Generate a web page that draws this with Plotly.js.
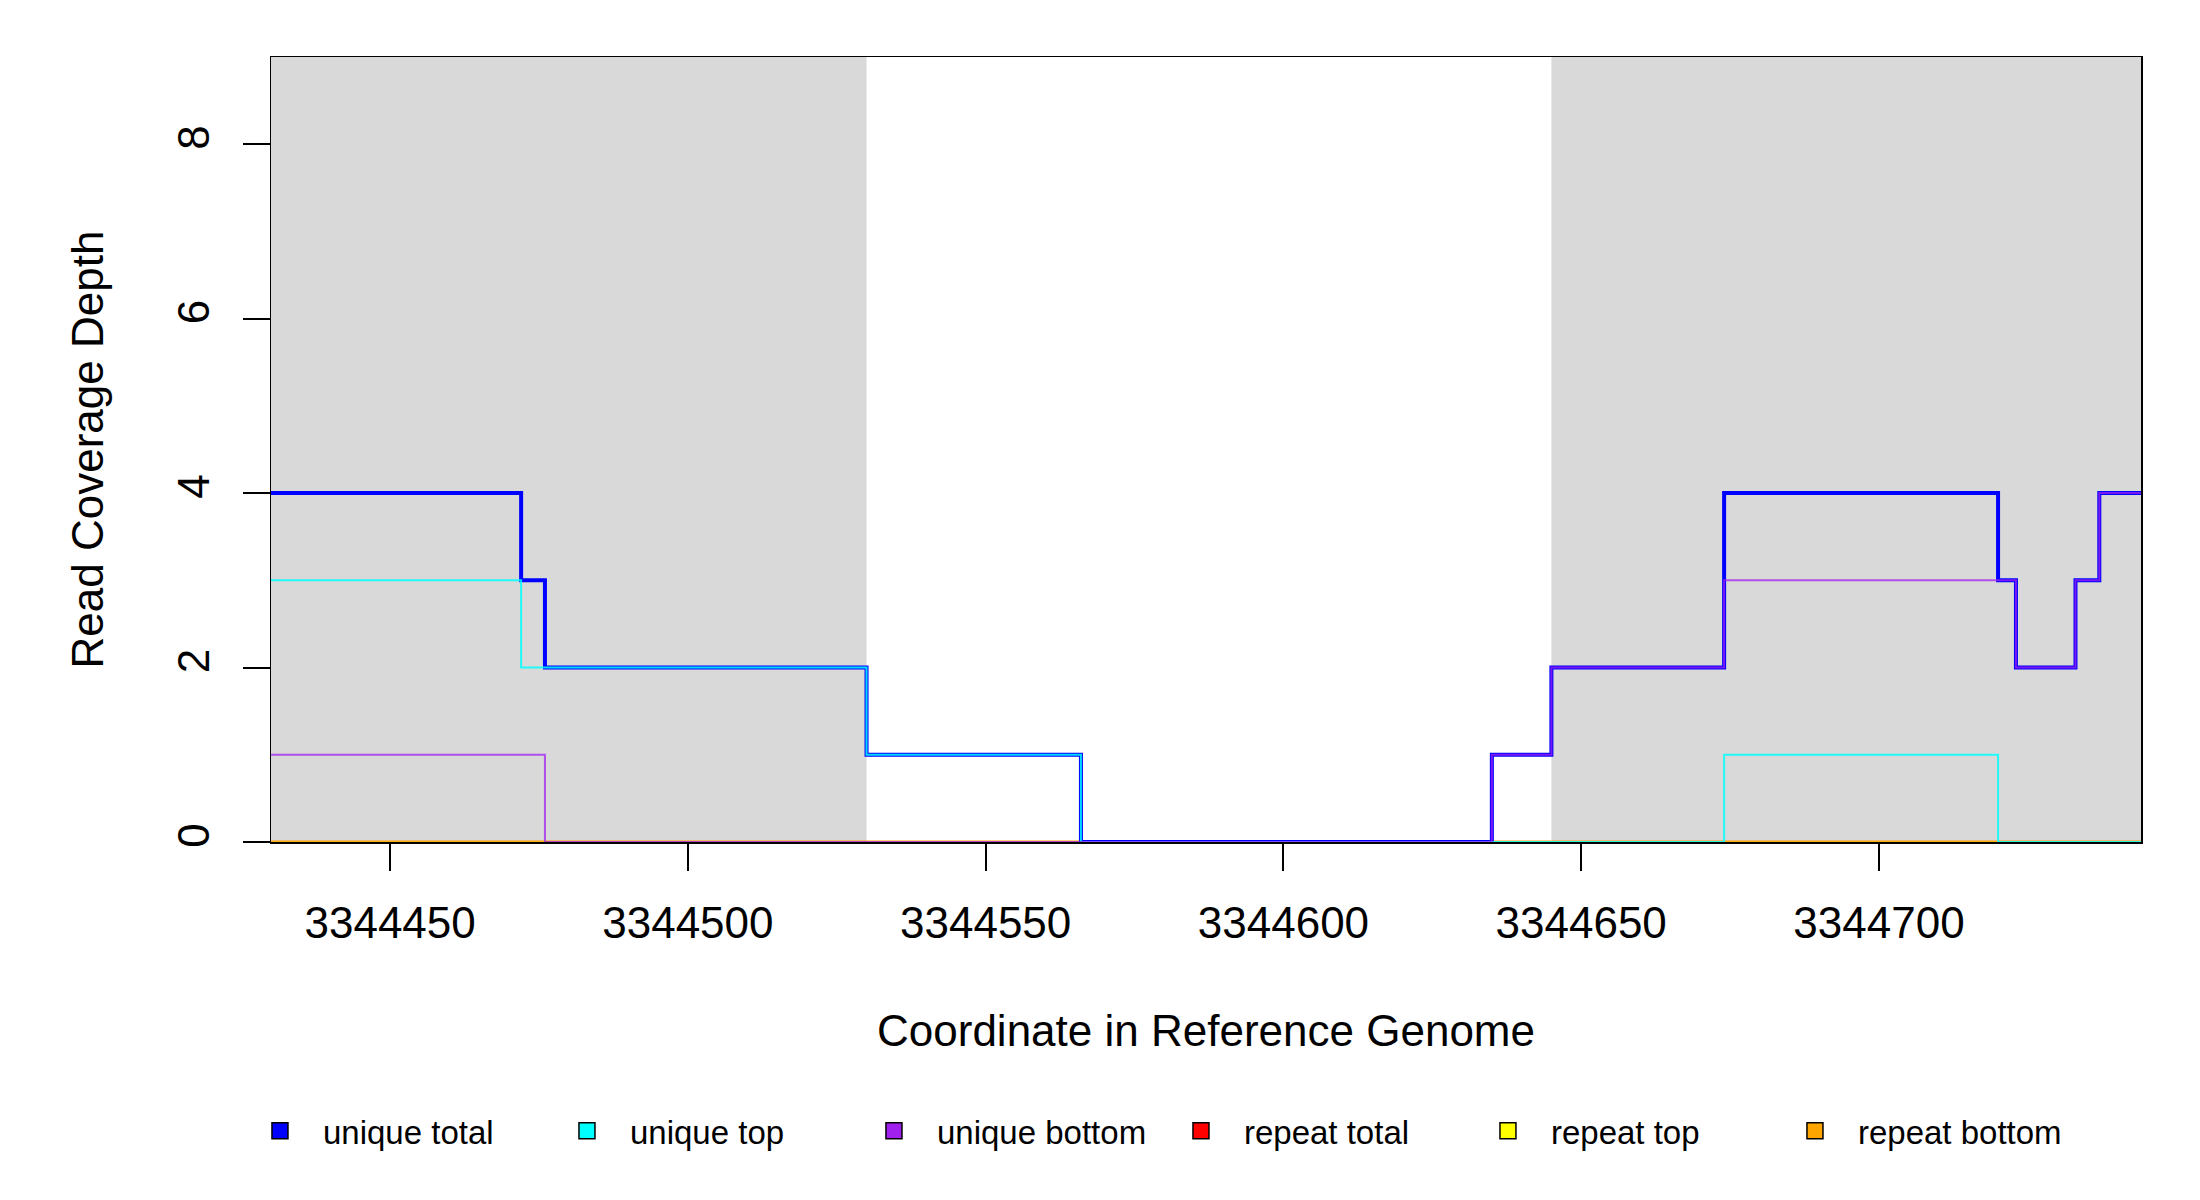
<!DOCTYPE html>
<html>
<head>
<meta charset="utf-8">
<script src="https://cdn.plot.ly/plotly-3.0.1.min.js"></script>
<style>
  html, body { margin: 0; padding: 0; background: #ffffff; }
  #chart { width: 2200px; height: 1200px; }
</style>
</head>
<body>
<div id="chart"></div>
<script>
// ---- data ----
const seriesNames = ["unique total", "unique top", "unique bottom", "repeat total", "repeat top", "repeat bottom"];
const seriesColors = ["#0000FF", "#00FFFF", "#A020F0", "#FF0000", "#FFFF00", "#FFA500"];

// step breakpoints (genome coordinate) and depth from that point on
const uniqueTotalX = [3344430, 3344472, 3344476, 3344530, 3344566, 3344635, 3344645, 3344674, 3344720, 3344723, 3344733, 3344737, 3344744];
const uniqueTotalY = [4, 3, 2, 1, 0, 1, 2, 4, 3, 2, 3, 4, 4];

const uniqueTopX = [3344430, 3344472, 3344530, 3344566, 3344674, 3344720, 3344744];
const uniqueTopY = [3, 2, 1, 0, 1, 0, 0];

const uniqueBottomX = [3344430, 3344476, 3344635, 3344645, 3344674, 3344723, 3344733, 3344737, 3344744];
const uniqueBottomY = [1, 0, 1, 2, 3, 2, 3, 4, 4];

const repeatTotalX = [3344430, 3344744];
const repeatTotalY = [0, 0];
const repeatTopX = [3344430, 3344744];
const repeatTopY = [0, 0];
const repeatBottomX = [3344430, 3344744];
const repeatBottomY = [0, 0];

// shaded regions (genome coordinates)
const regionStarts = [3344430, 3344645];
const regionEnds = [3344530, 3344744];

const xTickVals = [3344450, 3344500, 3344550, 3344600, 3344650, 3344700];
const xTickText = ["3344450", "3344500", "3344550", "3344600", "3344650", "3344700"];
const yTickVals = [0, 2, 4, 6, 8];
const yTickText = ["0", "2", "4", "6", "8"];

const xRange = [3344430, 3344744];
const yRange = [0, 9];

// ---- traces ----
function stepTrace(x, y, color, width, opacity) {
  return {
    type: "scatter", mode: "lines", x: x, y: y,
    line: { shape: "hv", color: color, width: width },
    opacity: opacity, showlegend: false, hoverinfo: "skip"
  };
}

const traces = [
  stepTrace(repeatTotalX, repeatTotalY, seriesColors[3], 2.5, 0.8),
  stepTrace(repeatTopX, repeatTopY, seriesColors[4], 2.5, 0.8),
  stepTrace(repeatBottomX, repeatBottomY, seriesColors[5], 2.5, 0.8),
  stepTrace(uniqueTotalX, uniqueTotalY, seriesColors[0], 4, 1),
  stepTrace(uniqueTopX, uniqueTopY, seriesColors[1], 2, 0.85),
  stepTrace(uniqueBottomX, uniqueBottomY, seriesColors[2], 2, 0.75)
];

// legend-only entries with square swatches
seriesNames.forEach(function (name, i) {
  traces.push({
    type: "scatter", mode: "markers", x: [null], y: [null],
    name: name, showlegend: true,
    marker: { symbol: "square", size: 16, color: seriesColors[i], line: { color: "#000000", width: 1.5 } }
  });
});

const shapes = regionStarts.map(function (s, i) {
  return {
    type: "rect", xref: "x", yref: "paper", x0: s, x1: regionEnds[i], y0: 0, y1: 1,
    fillcolor: "#D9D9D9", line: { width: 0 }, layer: "below"
  };
});

const FONT = "Liberation Sans, Arial, Helvetica, sans-serif";

const layout = {
  width: 2200, height: 1200,
  paper_bgcolor: "#ffffff", plot_bgcolor: "#ffffff",
  margin: { l: 271, r: 59, t: 57, b: 358, autoexpand: false },
  font: { family: FONT, color: "#000000", size: 44 },
  showlegend: true,
  shapes: shapes,
  xaxis: {
    range: xRange, autorange: false,
    tickmode: "array", tickvals: xTickVals, ticktext: xTickText,
    ticks: "outside", ticklen: 27, tickwidth: 2, tickcolor: "#000000",
    tickfont: { family: FONT, size: 44, color: "#000000" },
    ticklabelstandoff: 15,
    showgrid: false, zeroline: false,
    showline: true, linecolor: "#000000", linewidth: 1.5, mirror: true,
    title: { text: "Coordinate in Reference Genome", font: { family: FONT, size: 44, color: "#000000" }, standoff: 69 },
    automargin: false
  },
  yaxis: {
    range: yRange, autorange: false,
    tickmode: "array", tickvals: yTickVals, ticktext: yTickText,
    ticks: "outside", ticklen: 27, tickwidth: 2, tickcolor: "#000000",
    tickangle: -90,
    tickfont: { family: FONT, size: 44, color: "#000000" },
    ticklabelstandoff: 16,
    showgrid: false, zeroline: false,
    showline: true, linecolor: "#000000", linewidth: 1.5, mirror: true,
    title: { text: "Read Coverage Depth", font: { family: FONT, size: 44, color: "#000000" }, standoff: 51 },
    automargin: false
  },
  legend: {
    orientation: "h",
    x: -0.0182, xanchor: "left",
    y: -0.368, yanchor: "middle",
    font: { family: FONT, size: 33, color: "#000000" },
    itemwidth: 76,
    entrywidthmode: "pixels", entrywidth: 216,
    bgcolor: "rgba(0,0,0,0)", borderwidth: 0
  }
};

Plotly.newPlot("chart", traces, layout, { displayModeBar: false, staticPlot: true });
</script>
</body>
</html>
